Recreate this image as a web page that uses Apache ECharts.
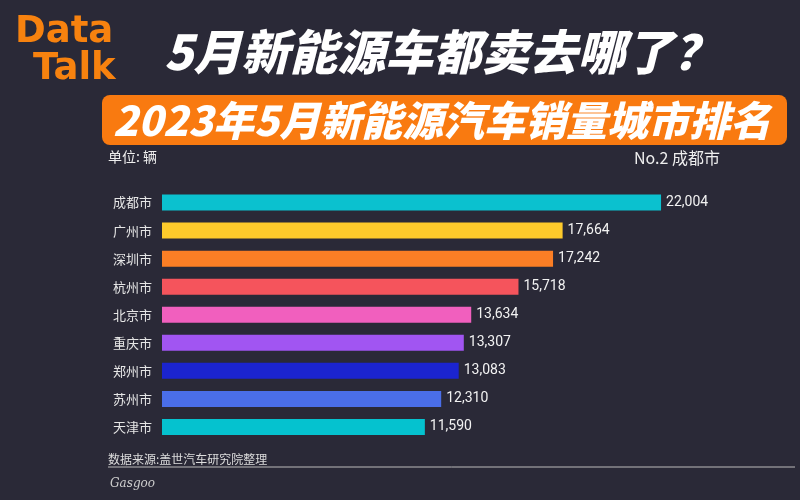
<!DOCTYPE html>
<html>
<head>
<meta charset="utf-8">
<script src="https://cdn.jsdelivr.net/npm/echarts@6/dist/echarts.min.js"></script>
<style>html,body{margin:0;padding:0;background:#2a2937;}#c{width:800px;height:500px;}</style>
</head>
<body>
<div id="c"></div>
<script>
const cities = ['成都市','广州市','深圳市','杭州市','北京市','重庆市','郑州市','苏州市','天津市'];
const sales = [22004, 17664, 17242, 15718, 13634, 13307, 13083, 12310, 11590];
const barColors = ['#0bc1cf','#fdca2b','#fb7e25','#f5545c','#f15fbe','#a155f2','#1b24cf','#4a6ee9','#05c2cf'];
const brand = ['Data', 'Talk'];
const mainTitle = '5月新能源车都卖去哪了？';
const subTitle = '2023年5月新能源汽车销量城市排名';
const unitText = '单位: 辆';
const rankText = 'No.2 成都市';
const sourceText = '数据来源:盖世汽车研究院整理';

const chart = echarts.init(document.getElementById('c'));
const cjk = '"Noto Sans CJK SC", "Noto Sans", sans-serif';
chart.setOption({
  backgroundColor: '#2a2937',
  animation: false,
  grid: { left: 162, right: 71, top: 188.5, bottom: 59, containLabel: false },
  xAxis: { type: 'value', min: 0, max: 25000, show: false },
  yAxis: {
    type: 'category', inverse: true, data: cities,
    axisLine: { show: false }, axisTick: { show: false },
    axisLabel: { color: '#e6e6e6', fontSize: 13, fontFamily: cjk, margin: 10 }
  },
  series: [{
    type: 'bar', barWidth: 16,
    data: sales.map((v, i) => ({ value: v, itemStyle: { color: barColors[i] } })),
    label: {
      show: true, position: 'right', distance: 5, color: '#f2f2f2', fontSize: 14,
      fontFamily: 'Roboto, "DejaVu Sans", sans-serif',
      formatter: p => p.value.toLocaleString('en-US')
    }
  }],
  graphic: [
    { type: 'text', left: 15, top: 14, style: { text: brand[0], fill: '#f7820f', font: 'bold 37px "DejaVu Sans", sans-serif' } },
    { type: 'text', left: 33, top: 51, style: { text: brand[1], fill: '#f7820f', font: 'bold 37px "DejaVu Sans", sans-serif' } },
    { type: 'text', left: 164, top: 28, style: { text: mainTitle, fill: '#ffffff', font: 'italic 900 48px ' + cjk } },
    { type: 'rect', shape: { x: 102, y: 95, width: 685, height: 50, r: 8 }, style: { fill: '#f97a10' } },
    { type: 'text', x: 442, y: 120, style: { text: subTitle, fill: '#ffffff', font: 'italic 900 41px ' + cjk, align: 'center', verticalAlign: 'middle' } },
    { type: 'text', left: 108, top: 150, style: { text: unitText, fill: '#eeeeee', font: '14px ' + cjk } },
    { type: 'text', left: 634, top: 150, style: { text: rankText, fill: '#eeeeee', font: '16px ' + cjk } },
    { type: 'text', left: 108, top: 453, style: { text: sourceText, fill: '#dddddd', font: '12px ' + cjk } },
    { type: 'line', shape: { x1: 108, y1: 467, x2: 795, y2: 467 }, style: { stroke: '#bbbbbb', lineWidth: 1 } },
    { type: 'text', left: 110, top: 478, style: { text: 'Gasgoo', fill: '#cccccc', font: 'italic 12px "DejaVu Serif", serif' } }
  ]
});
</script>
</body>
</html>
